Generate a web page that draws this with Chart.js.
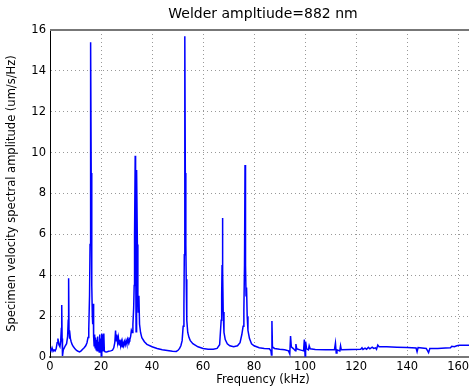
<!DOCTYPE html>
<html>
<head>
<meta charset="utf-8">
<script src="https://cdn.jsdelivr.net/npm/chart.js@4/dist/chart.umd.min.js"></script>
<style>
  html, body { margin: 0; background: #fff; overflow: hidden; }
  canvas { display: block; }
</style>
</head>
<body>
<!-- the original axes run a little past the right edge of the picture -->
<canvas id="spectrum" width="476" height="388"></canvas>
<script>
// spectrum: frequency (kHz) and amplitude (um/s/Hz)
const freqKHz = [
  0, 0.4, 0.8, 1.2, 1.6, 2.0, 2.4, 2.8, 3.1, 3.5, 3.9, 4.2, 4.45, 4.6, 4.75, 4.9, 5.2, 5.6, 6.0, 6.5, 6.9, 7.15, 7.3, 7.45, 7.6, 7.8, 8.0, 8.3, 8.7, 9.2, 9.8, 10.4, 11.0, 11.6, 12.2, 12.8, 13.4, 14.0, 14.5, 14.9, 15.2, 15.5, 15.7, 15.85, 16.0, 16.15, 16.3, 16.45, 16.6, 16.75, 16.95, 17.1, 17.3, 17.5, 17.7, 17.9, 18.1, 18.3, 18.5, 18.7, 18.9, 19.1, 19.3, 19.5, 19.7, 19.9, 20.1, 20.3, 20.5, 20.7, 20.9, 21.1, 21.3, 21.6, 22.2, 23.0, 23.8, 24.5, 25.0, 25.4, 25.7, 25.9, 26.2, 26.5, 26.8, 27.1, 27.4, 27.7, 28.0, 28.3, 28.6, 28.9, 29.2, 29.5, 29.8, 30.1, 30.4, 30.7, 31.0, 31.3, 31.6, 31.9, 32.2, 32.5, 32.8, 33.0, 33.15, 33.4, 33.55, 33.75, 33.85, 34.05, 34.25, 34.45, 34.6, 34.85, 35.1, 35.5, 36.0, 37.0, 38.0, 40.0, 42.0, 44.0, 46.0, 48.0, 49.5, 50.2, 50.8, 51.3, 51.8, 52.2, 52.5, 52.65, 52.8, 52.9, 53.05, 53.25, 53.4, 53.55, 53.7, 54.0, 54.5, 55.0, 56.0, 58.0, 60.0, 62.0, 64.0, 65.5, 66.5, 67.1, 67.3, 67.45, 67.6, 67.75, 67.9, 68.2, 68.7, 69.5, 70.5, 72.0, 73.5, 74.5, 75.2, 75.7, 76.0, 76.25, 76.45, 76.65, 76.85, 77.05, 77.3, 77.6, 78.2, 79.0, 80.0, 82.0, 84.0, 86.0, 86.6, 86.8, 87.0, 87.2, 88.0, 90.0, 92.0, 93.5, 94.0, 94.3, 94.6, 95.5, 96.2, 96.4, 96.7, 98.0, 99.4, 99.7, 100.0, 100.2, 100.6, 101.3, 101.6, 102.0, 104.0, 108.0, 111.5, 111.9, 112.2, 112.5, 113.6, 113.9, 114.2, 118.0, 121.8, 122.3, 122.7, 123.5, 124.1, 124.8, 125.4, 126.3, 126.9, 127.6, 128.0, 128.5, 129.0, 132.0, 136.0, 140.0, 143.5, 143.9, 144.3, 145.0, 147.5, 148.4, 148.9, 152.0, 155.0, 157.0, 157.5, 158.5, 159.5, 160.5, 163.0, 167.0
];
const amplitude = [
  0.42, 0.3, 0.45, 0.28, 0.35, 0.3, 0.4, 0.7, 0.9, 0.6, 0.5, 0.8, 1.4, 2.54, 0.9, 0.05, 0.35, 0.45, 0.55, 0.65, 1.0, 1.8, 3.85, 1.3, 0.9, 1.25, 0.9, 0.75, 0.6, 0.5, 0.4, 0.32, 0.28, 0.25, 0.3, 0.38, 0.45, 0.55, 0.7, 0.95, 1.4, 3.0, 5.5, 9.0, 15.4, 9.0, 5.5, 3.5, 2.0, 1.6, 2.6, 1.0, 0.55, 1.1, 0.45, 0.95, 0.35, 0.85, 0.3, 1.0, 0.4, 0.75, 0.25, 1.1, 0.35, 0.9, 0.05, 1.15, 0.3, 1.1, 0.4, 1.15, 0.3, 0.26, 0.25, 0.28, 0.3, 0.33, 0.45, 0.7, 1.3, 0.8, 1.1, 0.7, 0.95, 0.6, 0.85, 0.55, 0.75, 0.5, 0.7, 0.55, 0.75, 0.6, 0.8, 0.65, 0.85, 0.7, 0.9, 0.85, 1.0, 1.3, 1.2, 1.6, 2.4, 3.5, 6.0, 9.85, 6.0, 1.24, 6.0, 9.15, 5.5, 3.0, 2.2, 3.0, 1.6, 1.2, 0.95, 0.75, 0.62, 0.5, 0.42, 0.36, 0.32, 0.28, 0.27, 0.33, 0.42, 0.55, 0.8, 1.5, 2.5, 5.0, 9.0, 15.7, 9.0, 5.5, 3.8, 2.9, 1.8, 1.2, 0.95, 0.8, 0.65, 0.5, 0.42, 0.38, 0.38, 0.42, 0.6, 1.8, 3.0, 4.5, 6.8, 4.2, 2.2, 1.2, 0.85, 0.65, 0.55, 0.5, 0.55, 0.7, 1.1, 1.5, 2.3, 4.5, 9.4, 4.5, 3.0, 3.4, 2.0, 1.3, 0.9, 0.65, 0.55, 0.45, 0.42, 0.4, 0.3, 0.1, 1.76, 0.5, 0.42, 0.38, 0.35, 0.3, 0.15, 1.03, 0.5, 0.4, 0.3, 0.63, 0.4, 0.35, 0.3, 0.85, 0.05, 0.75, 0.4, 0.35, 0.55, 0.4, 0.37, 0.36, 0.35, 0.68, 0.2, 0.35, 0.3, 0.55, 0.35, 0.37, 0.38, 0.45, 0.37, 0.43, 0.38, 0.47, 0.4, 0.48, 0.42, 0.45, 0.38, 0.58, 0.5, 0.5, 0.48, 0.46, 0.44, 0.26, 0.46, 0.45, 0.42, 0.22, 0.42, 0.42, 0.44, 0.45, 0.52, 0.5, 0.55, 0.58, 0.58, 0.57
];
const xTicks = [0, 20, 40, 60, 80, 100, 120, 140, 160];
const yTicks = [0, 2, 4, 6, 8, 10, 12, 14, 16];

const points = freqKHz.map((f, i) => ({ x: f, y: amplitude[i] }));
const fontFamily = '"DejaVu Sans", sans-serif';

// top spine, like the matplotlib frame
const topSpine = {
  id: 'topSpine',
  afterDraw(chart) {
    const { ctx, chartArea } = chart;
    ctx.save();
    ctx.strokeStyle = '#777';
    ctx.lineWidth = 2;
    ctx.beginPath();
    ctx.moveTo(chartArea.left, chartArea.top);
    ctx.lineTo(chartArea.right, chartArea.top);
    ctx.stroke();
    ctx.restore();
  }
};

const ctx = document.getElementById('spectrum').getContext('2d');
const chart = new Chart(ctx, {
  type: 'line',
  data: {
    datasets: [{
      data: points,
      borderColor: '#0000ff',
      borderWidth: 1.5,
      pointRadius: 0,
      tension: 0,
      fill: false
    }]
  },
  options: {
    responsive: false,
    animation: false,
    devicePixelRatio: 1,
    layout: { padding: 0 },
    plugins: {
      legend: { display: false },
      tooltip: { enabled: false },
      title: {
        display: true,
        text: 'Welder ampltiude=882 nm',
        fullSize: false,
        color: '#000',
        font: { family: fontFamily, size: 14, weight: 'normal' },
        padding: { top: 6, bottom: 7.2 }
      }
    },
    scales: {
      x: {
        type: 'linear',
        min: 0,
        max: 167,
        afterFit: (scale) => { scale.height = 31; },
        afterBuildTicks: (scale) => { scale.ticks = xTicks.map(v => ({ value: v })); },
        ticks: {
          color: '#000',
          padding: 3,
          maxRotation: 0,
          font: { family: fontFamily, size: 11.5 }
        },
        grid: { color: '#999', lineWidth: 1, drawTicks: false },
        border: { display: true, color: '#777', width: 2, dash: [1, 3] },
        title: {
          display: true,
          text: 'Frequency (kHz)',
          color: '#000',
          font: { family: fontFamily, size: 11.5 },
          padding: { top: 0, bottom: 1.5 }
        }
      },
      y: {
        min: 0,
        max: 16,
        afterFit: (scale) => { scale.width = 50; },
        afterBuildTicks: (scale) => { scale.ticks = yTicks.map(v => ({ value: v })); },
        ticks: {
          color: '#000',
          padding: 4,
          font: { family: fontFamily, size: 11.5 }
        },
        grid: { color: '#999', lineWidth: 1, drawTicks: false },
        border: { display: true, color: '#000', width: 1, dash: [1, 3] },
        title: {
          display: true,
          text: 'Specimen velocity spectral amplitude (um/s/Hz)',
          color: '#000',
          font: { family: fontFamily, size: 11.5 },
          padding: { top: 5, bottom: 0 }
        }
      }
    }
  },
  plugins: [topSpine]
});
</script>
</body>
</html>
